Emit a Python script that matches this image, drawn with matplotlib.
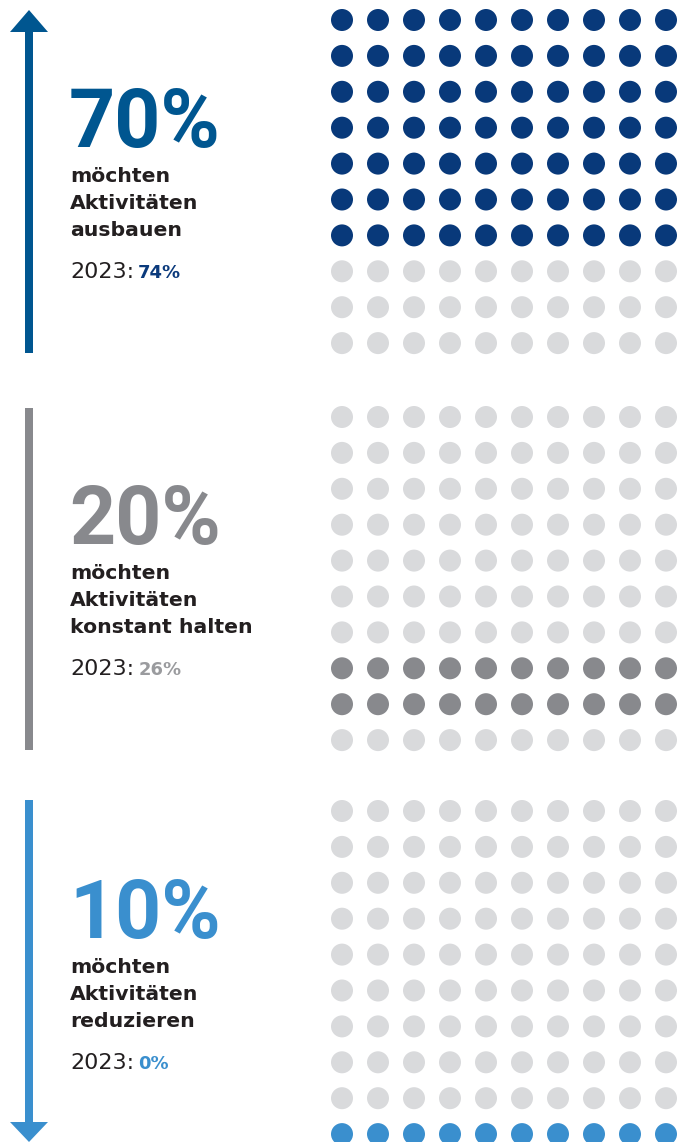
import matplotlib.pyplot as plt
import numpy as np

# Survey shares (this year) and the 2023 comparison values
shares = [70, 20, 10]
shares_2023 = [74, 26, 0]
labels = [
    ["möchten", "Aktivitäten", "ausbauen"],
    ["möchten", "Aktivitäten", "konstant halten"],
    ["möchten", "Aktivitäten", "reduzieren"],
]
directions = ["up", "flat", "down"]

dot_colors = ["#08397A", "#88898D", "#3A8FCE"]
accent_colors = ["#005690", "#88898D", "#3A8FCE"]
prev_colors = ["#0B3A7C", "#9A9B9E", "#3A8FCE"]
empty_color = "#D9DADC"
text_color = "#231F20"

W, H = 680, 1142
fig = plt.figure(figsize=(W / 100, H / 100), dpi=100)
ax = fig.add_axes([0, 0, 1, 1])
ax.set_xlim(0, W)
ax.set_ylim(H, 0)
ax.axis("off")

panel_tops = [20, 417, 811]
n_cols, n_rows = 10, 10
dot_x0, dot_dx, dot_dy = 342, 36, 35.9
dot_size = (22 * 72 / 100) ** 2

start = 0
for i, top in enumerate(panel_tops):
    # 10x10 dot grid, highlighting this group's slice of 100
    idx = np.arange(n_cols * n_rows)
    xs = dot_x0 + (idx % n_cols) * dot_dx
    ys = top + (idx // n_cols) * dot_dy
    on = (idx >= start) & (idx < start + shares[i])
    cols = np.where(on, dot_colors[i], empty_color)
    ax.scatter(xs, ys, s=dot_size, c=cols, linewidths=0)
    start += shares[i]

    # side arrow / bar
    c = accent_colors[i]
    if directions[i] == "up":
        ax.arrow(29, 353, 0, -343, width=8, head_width=38, head_length=22,
                 length_includes_head=True, color=c, lw=0)
    elif directions[i] == "down":
        ax.arrow(29, 800, 0, 342, width=8, head_width=38, head_length=20,
                 length_includes_head=True, color=c, lw=0)
    else:
        ax.add_patch(plt.Rectangle((25, 408), 8, 342, color=c, lw=0))

    # text block
    ax.text(69, top + 127, f"{shares[i]}%", fontsize=58, fontweight="bold",
            family="Roboto", color=c, va="baseline", ha="left")
    for k, line in enumerate(labels[i]):
        ax.text(70, top + 162 + 27 * k, line, fontsize=14.7, fontweight="bold",
                color=text_color, va="baseline", ha="left")
    t = ax.text(70, top + 258, "2023:", fontsize=16, fontweight="normal",
                color=text_color, va="baseline", ha="left")
    # axes span the whole figure 1:1 in pixels, so display x == data x
    fig.canvas.draw()
    x_end = t.get_window_extent().x1
    ax.text(x_end + 4, top + 258, f"{shares_2023[i]}%", fontsize=13,
            fontweight="bold", color=prev_colors[i], va="baseline", ha="left")

fig.savefig("out.png", dpi=100)
